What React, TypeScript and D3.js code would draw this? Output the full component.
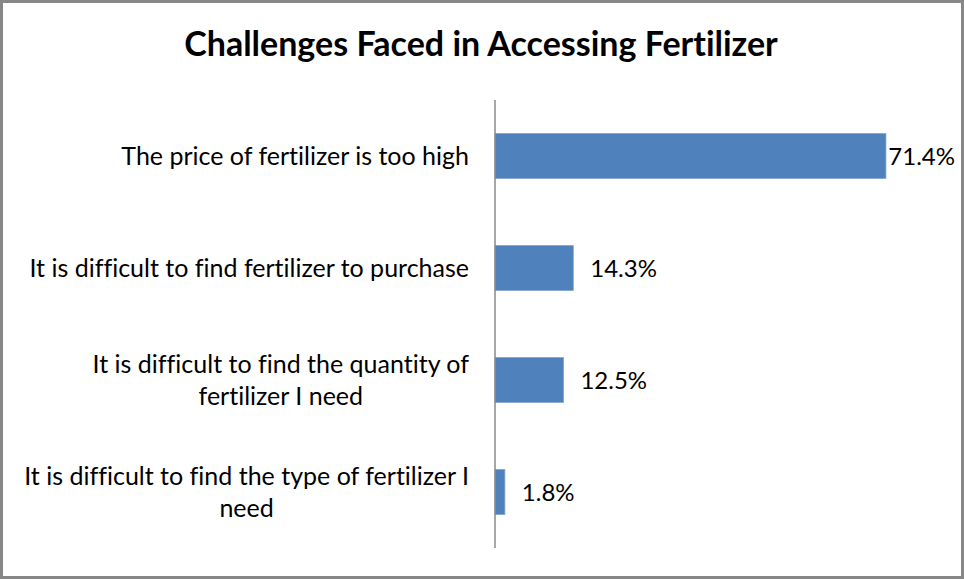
import { useEffect, useRef } from 'react'
import * as d3 from 'd3'

const title = 'Challenges Faced in Accessing Fertilizer'
const categories = [
  'The price of fertilizer is too high',
  'It is difficult to find fertilizer to purchase',
  'It is difficult to find the quantity of\nfertilizer I need',
  'It is difficult to find the type of fertilizer I\nneed',
]
const values = [71.4, 14.3, 12.5, 1.8]
const xMax = 80

export default function App() {
  const svgRef = useRef<SVGSVGElement>(null)

  useEffect(() => {
    const svg = svgRef.current
    if (!svg) return
    const width = 964
    const height = 579
    const font = 'Lato, "Open Sans", sans-serif'

    d3.select(svg).selectAll('*').remove()
    const root = d3
      .select(svg)
      .attr('width', width)
      .attr('height', height)
      .style('font-variant-ligatures', 'none')

    // frame
    root
      .append('rect')
      .attr('x', 1.5)
      .attr('y', 1.5)
      .attr('width', width - 3)
      .attr('height', height - 3)
      .attr('fill', '#fff')
      .attr('stroke', '#878787')
      .attr('stroke-width', 3)

    root
      .append('text')
      .attr('x', 481)
      .attr('y', 56)
      .attr('text-anchor', 'middle')
      .attr('font-family', font)
      .attr('font-weight', 'bold')
      .attr('font-size', '34px')
      .attr('fill', '#000')
      .text(title)

    const x = d3.scaleLinear().domain([0, xMax]).range([495, 933])
    const y = d3
      .scaleBand<number>()
      .domain(d3.range(categories.length))
      .range([100, 548])
      .paddingInner(0.6)
      .paddingOuter(0.3)

    // bars
    root
      .append('g')
      .selectAll('rect')
      .data(values)
      .join('rect')
      .attr('x', x(0))
      .attr('y', (_, i) => y(i)!)
      .attr('width', (d) => x(d) - x(0))
      .attr('height', y.bandwidth())
      .attr('fill', '#4f81bd')
      .attr('stroke', '#7ea0cf')
      .attr('stroke-width', 0.8)

    // axis line
    root
      .append('line')
      .attr('x1', x(0))
      .attr('x2', x(0))
      .attr('y1', 100)
      .attr('y2', 548)
      .attr('stroke', '#8a8a8a')
      .attr('stroke-width', 1.5)

    // category labels, lines centred, block right-aligned
    const lineH = 32
    const labelRight = 469
    categories.forEach((c, i) => {
      const lines = c.split('\n')
      const g = root.append('g')
      const texts = lines.map((ln, k) =>
        g
          .append('text')
          .attr('y', y(i)! + y.bandwidth() / 2 + (k - (lines.length - 1) / 2) * lineH)
          .attr('dy', '0.36em')
          .attr('text-anchor', 'middle')
          .attr('font-family', font)
          .attr('font-size', '25px')
          .attr('fill', '#000')
          .text(ln)
      )
      const maxW = d3.max(texts, (t) => (t.node() as SVGTextElement).getComputedTextLength()) ?? 0
      texts.forEach((t) => t.attr('x', labelRight - maxW / 2))
    })

    // value labels
    values.forEach((v, i) => {
      const t = root
        .append('text')
        .attr('x', x(v) + 17)
        .attr('y', y(i)! + y.bandwidth() / 2)
        .attr('dy', '0.36em')
        .attr('font-family', font)
        .attr('font-size', '24px')
        .attr('fill', '#000')
        .text(`${v.toFixed(1)}%`)
      const w = (t.node() as SVGTextElement).getComputedTextLength()
      const limit = 955
      if (x(v) + 17 + w > limit) t.attr('x', limit - w)
    })
  }, [])

  return (
    <div style={{ position: 'absolute', left: 0, top: 0 }}>
      <svg ref={svgRef} style={{ display: 'block' }} />
    </div>
  )
}
